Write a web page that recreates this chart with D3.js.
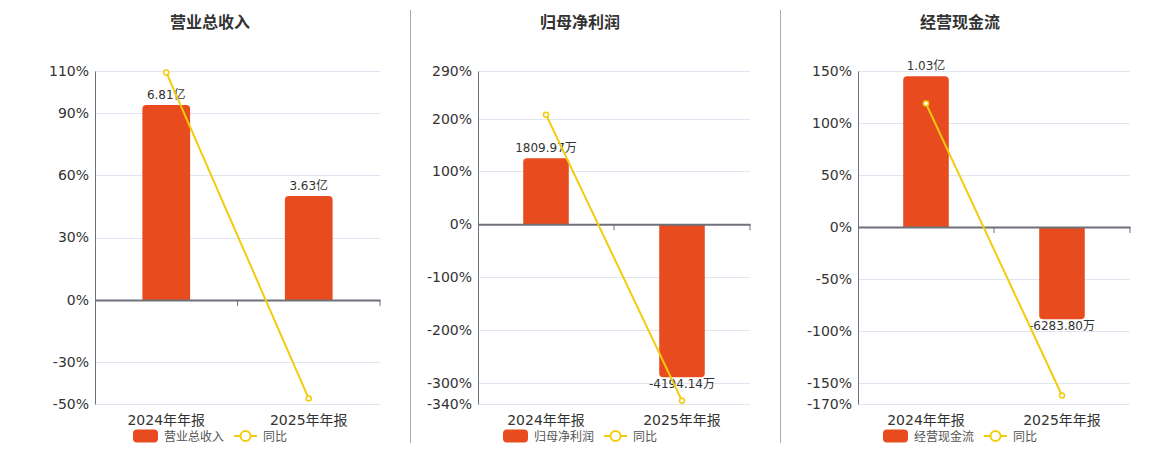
<!DOCTYPE html>
<html>
<head>
<meta charset="utf-8">
<script src="https://cdn.jsdelivr.net/npm/d3@7"></script>
<style>
  body { margin: 0; background: #fff; }
  svg { display: block; font-family: "DejaVu Sans", "Noto Sans CJK SC", sans-serif; }
</style>
</head>
<body>
<div id="container"></div>
<script>
document.addEventListener("DOMContentLoaded", function() {

    const categories = ["2024年年报", "2025年年报"];
    const titles = ["营业总收入", "归母净利润", "经营现金流"];

    // bar values: 亿 for revenue, 万 for the other two
    const revenueValues = [6.81, 3.63];
    const profitValues = [1809.97, -4194.14];
    const cashValues = [10300, -6283.80];

    const revenueLabels = ["6.81亿", "3.63亿"];
    const profitLabels = ["1809.97万", "-4194.14万"];
    const cashLabels = ["1.03亿", "-6283.80万"];

    // 同比 (%)
    const revenueYoy = [109.3, -47.4];
    const profitYoy = [207.4, -334];
    const cashYoy = [118.7, -161.8];

    // y axis ticks (%)
    const revenueTicks = [110, 90, 60, 30, 0, -30, -50];
    const profitTicks = [290, 200, 100, 0, -100, -200, -300, -340];
    const cashTicks = [150, 100, 50, 0, -50, -100, -150, -170];

    // top of the hidden bar axis, same unit as the bars
    const barAxisMax = [8, 4200, 10650];

    const panels = [
        {title: titles[0], bars: revenueValues, labels: revenueLabels, yoy: revenueYoy, ticks: revenueTicks, barMax: barAxisMax[0], left: 95, right: 380, center: 210},
        {title: titles[1], bars: profitValues, labels: profitLabels, yoy: profitYoy, ticks: profitTicks, barMax: barAxisMax[1], left: 478, right: 750, center: 580},
        {title: titles[2], bars: cashValues, labels: cashLabels, yoy: cashYoy, ticks: cashTicks, barMax: barAxisMax[2], left: 858, right: 1130, center: 960}
    ];

    const width = 1160, height = 450;
    const top = 71, bottom = 404;
    const barColor = "#E84C1E";
    const lineColor = "#F2CC0C";
    const textColor = "#333";

    const svg = d3.select("div#container")
        .append("svg")
        .attr("width", width)
        .attr("height", height);

    // separators
    [410, 780].forEach(function (x) {
        svg.append("line")
            .attr("x1", x + 0.5).attr("x2", x + 0.5)
            .attr("y1", 10).attr("y2", 443)
            .attr("stroke", "#aaa")
            .attr("stroke-width", 1);
    });

    // rounded at the free end only
    function barPath(x, w, y0, y1, r) {
        if (y1 < y0) {
            return `M${x},${y0}V${y1 + r}Q${x},${y1} ${x + r},${y1}H${x + w - r}Q${x + w},${y1} ${x + w},${y1 + r}V${y0}Z`;
        }
        return `M${x},${y0}V${y1 - r}Q${x},${y1} ${x + r},${y1}H${x + w - r}Q${x + w},${y1} ${x + w},${y1 - r}V${y0}Z`;
    }

    panels.forEach(function (p) {
        const g = svg.append("g");
        const minPct = d3.min(p.ticks), maxPct = d3.max(p.ticks);

        const xScale = d3.scaleBand()
            .domain(categories)
            .range([p.left, p.right]);

        const yScale = d3.scaleLinear()
            .domain([minPct, maxPct])
            .range([bottom, top]);

        // hidden bar axis sharing the zero line
        const barScale = d3.scaleLinear()
            .domain([p.barMax * minPct / maxPct, p.barMax])
            .range([bottom, top]);

        g.append("text")
            .attr("x", p.center)
            .attr("y", 28)
            .attr("text-anchor", "middle")
            .attr("font-size", 16)
            .attr("font-weight", "bold")
            .attr("fill", textColor)
            .text(p.title);

        // grid
        g.selectAll("line.grid")
            .data(p.ticks.filter(t => t !== 0))
            .enter().append("line")
                .attr("class", "grid")
                .attr("x1", p.left).attr("x2", p.right)
                .attr("y1", d => Math.round(yScale(d)) + 0.5)
                .attr("y2", d => Math.round(yScale(d)) + 0.5)
                .attr("stroke", "#E0E6F1");

        // y axis
        const yAxis = d3.axisLeft(yScale)
            .tickValues(p.ticks)
            .tickSize(0)
            .tickPadding(6)
            .tickFormat(d => d + "%");

        const ya = g.append("g")
            .attr("transform", `translate(${p.left},0)`)
            .call(yAxis);
        ya.select(".domain").attr("stroke", "#6E7079");
        ya.selectAll("text")
            .attr("font-size", 14)
            .attr("fill", textColor)
            .attr("font-family", "DejaVu Sans, Noto Sans CJK SC, sans-serif");

        // bars
        const bw = xScale.bandwidth() * 0.335;
        g.selectAll("path.bar")
            .data(p.bars)
            .enter().append("path")
                .attr("class", "bar")
                .attr("fill", barColor)
                .attr("d", (d, i) => barPath(
                    xScale(categories[i]) + (xScale.bandwidth() - bw) / 2, bw,
                    barScale(0), barScale(d), 4));

        // x axis at zero
        const xAxis = d3.axisBottom(xScale)
            .tickSize(0)
            .tickPadding(0)
            .tickFormat("");
        const xa = g.append("g")
            .attr("transform", `translate(0,${yScale(0)})`)
            .call(xAxis);
        xa.select(".domain").attr("stroke", "#6E7079").attr("stroke-width", 2);

        // tick marks at band boundaries
        g.selectAll("line.xtick")
            .data(categories.slice(1).map(c => xScale(c)).concat([p.right]))
            .enter().append("line")
                .attr("x1", d => d).attr("x2", d => d)
                .attr("y1", yScale(0)).attr("y2", yScale(0) + 6)
                .attr("stroke", "#6E7079");

        // category labels under the plot
        g.selectAll("text.cat")
            .data(categories)
            .enter().append("text")
                .attr("x", d => xScale(d) + xScale.bandwidth() / 2)
                .attr("y", bottom + 21)
                .attr("text-anchor", "middle")
                .attr("font-size", 14)
                .attr("fill", textColor)
                .text(d => d);

        // value labels
        g.selectAll("text.val")
            .data(p.bars)
            .enter().append("text")
                .attr("x", (d, i) => xScale(categories[i]) + xScale.bandwidth() / 2)
                .attr("y", d => d >= 0 ? barScale(d) - 6 : barScale(d) + 11)
                .attr("text-anchor", "middle")
                .attr("font-size", 12)
                .attr("fill", textColor)
                .text((d, i) => p.labels[i]);

        // yoy line
        const line = d3.line()
            .x((d, i) => xScale(categories[i]) + xScale.bandwidth() / 2)
            .y(d => yScale(d));

        g.append("path")
            .datum(p.yoy)
            .attr("d", line)
            .attr("fill", "none")
            .attr("stroke", lineColor)
            .attr("stroke-width", 2);

        g.selectAll("circle.pt")
            .data(p.yoy)
            .enter().append("circle")
                .attr("cx", (d, i) => xScale(categories[i]) + xScale.bandwidth() / 2)
                .attr("cy", d => yScale(d))
                .attr("r", 2.5)
                .attr("fill", "#fff")
                .attr("stroke", lineColor)
                .attr("stroke-width", 1.5);

        // legend
        const lx = p.center - 77;
        const lg = g.append("g").attr("transform", `translate(${lx},436)`);
        lg.append("rect")
            .attr("x", 0).attr("y", -6.5)
            .attr("width", 25).attr("height", 13)
            .attr("rx", 4)
            .attr("fill", barColor);
        lg.append("text")
            .attr("x", 31).attr("y", 4.5)
            .attr("font-size", 12)
            .attr("fill", "#555")
            .text(p.title);
        lg.append("line")
            .attr("x1", 101).attr("x2", 124)
            .attr("y1", 0).attr("y2", 0)
            .attr("stroke", lineColor)
            .attr("stroke-width", 2);
        lg.append("circle")
            .attr("cx", 112.5).attr("cy", 0)
            .attr("r", 5)
            .attr("fill", "#fff")
            .attr("stroke", lineColor)
            .attr("stroke-width", 2);
        lg.append("text")
            .attr("x", 130).attr("y", 4.5)
            .attr("font-size", 12)
            .attr("fill", "#555")
            .text("同比");
    });
});
</script>
</body>
</html>
